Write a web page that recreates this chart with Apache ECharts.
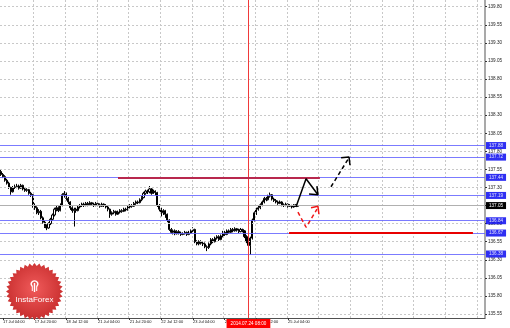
<!DOCTYPE html>
<html><head><meta charset="utf-8">
<script src="https://cdn.jsdelivr.net/npm/echarts@6/dist/echarts.min.js"></script>
<style>html,body{margin:0;padding:0;background:#fff}#c{width:510px;height:328px}</style>
</head><body><div id="c"></div>
<script>
// ---------- DATA ----------
const tradingDays = ['17 Jul','18 Jul','21 Jul','22 Jul','23 Jul','24 Jul','25 Jul'];
const firstHour = 3;   // first bar: 17 Jul 03:00
const lastHour = 9;    // last bar: 25 Jul 09:00
// hourly candles [open, close, low, high]
const candles = [
[137.52,137.48,137.46,137.55],[137.48,137.45,137.43,137.50],[137.45,137.40,137.38,137.47],[137.40,137.36,137.34,137.42],
[137.36,137.30,137.28,137.38],[137.30,137.24,137.20,137.31],[137.24,137.30,137.23,137.32],[137.30,137.31,137.28,137.34],
[137.31,137.32,137.29,137.35],[137.32,137.29,137.27,137.34],[137.29,137.33,137.28,137.35],[137.33,137.28,137.26,137.34],
[137.28,137.26,137.24,137.30],[137.26,137.27,137.24,137.29],[137.27,137.22,137.20,137.28],[137.22,137.20,137.17,137.24],
[137.20,137.05,137.02,137.21],[137.05,137.02,136.99,137.08],[137.02,136.95,136.93,137.04],[136.95,136.97,136.92,137.00],
[136.97,136.88,136.86,136.99],[136.88,136.82,136.80,136.90],[136.82,136.76,136.74,136.84],[136.76,136.74,136.71,136.79],
[136.74,136.80,136.73,136.82],[136.80,136.86,136.78,136.88],[136.86,136.92,136.84,136.94],[136.92,137.00,136.90,137.02],
[137.00,137.02,136.97,137.05],[137.02,136.98,136.96,137.04],[136.98,137.05,136.97,137.08],[137.05,137.20,137.04,137.22],
[137.20,137.22,137.16,137.25],[137.22,137.15,137.12,137.23],[137.15,137.10,137.07,137.17],[137.10,137.02,136.99,137.11],
[137.02,136.98,136.95,137.04],[136.98,137.00,136.76,137.02],[137.00,136.98,136.95,137.02],[136.98,137.03,136.97,137.05],
[137.03,137.05,137.01,137.07],[137.05,137.07,137.03,137.09],[137.07,137.05,137.03,137.09],[137.05,137.08,137.04,137.10],
[137.08,137.06,137.04,137.10],[137.06,137.09,137.05,137.11],[137.09,137.07,137.05,137.10],[137.07,137.05,137.03,137.09],
[137.05,137.08,137.04,137.10],[137.08,137.06,137.04,137.09],[137.06,137.04,137.02,137.08],[137.04,137.07,137.03,137.09],
[137.07,137.05,137.03,137.08],[137.05,137.03,137.01,137.07],[137.03,137.00,136.97,137.05],[137.00,136.93,136.88,137.01],
[136.93,136.95,136.91,136.97],[136.95,136.97,136.93,136.99],[136.97,136.93,136.91,136.98],[136.93,136.96,136.92,136.98],
[136.96,136.98,136.94,137.00],[136.98,136.97,136.95,137.00],[136.97,137.00,136.96,137.02],[137.00,136.99,136.97,137.02],
[136.99,137.03,136.98,137.05],[137.03,137.05,137.01,137.07],[137.05,137.04,137.02,137.07],[137.04,137.08,137.03,137.10],
[137.08,137.10,137.06,137.12],[137.10,137.09,137.07,137.12],[137.09,137.13,137.08,137.15],[137.13,137.16,137.11,137.18],
[137.16,137.22,137.15,137.24],[137.22,137.25,137.20,137.27],[137.25,137.24,137.21,137.27],[137.24,137.28,137.22,137.32],
[137.28,137.22,137.20,137.29],[137.22,137.25,137.21,137.27],[137.25,137.23,137.19,137.26],[137.23,137.05,137.03,137.24],
[137.05,137.00,136.97,137.07],[137.00,136.95,136.90,137.02],[136.95,136.98,136.92,137.00],[136.98,136.93,136.88,136.99],
[136.93,136.85,136.82,136.94],[136.85,136.72,136.70,136.86],[136.72,136.68,136.66,136.74],[136.68,136.70,136.65,136.72],
[136.70,136.66,136.64,136.72],[136.66,136.69,136.65,136.71],[136.69,136.67,136.65,136.71],[136.67,136.65,136.63,136.69],
[136.65,136.66,136.64,136.68],[136.66,136.68,136.65,136.70],[136.68,136.65,136.63,136.69],[136.65,136.67,136.64,136.70],
[136.67,136.70,136.66,136.72],[136.70,136.72,136.68,136.75],[136.72,136.55,136.53,136.73],[136.55,136.52,136.50,136.57],
[136.52,136.55,136.50,136.57],[136.55,136.53,136.51,136.57],[136.53,136.52,136.49,136.55],[136.52,136.48,136.46,136.54],
[136.48,136.47,136.42,136.50],[136.47,136.52,136.45,136.54],[136.52,136.58,136.50,136.60],[136.58,136.55,136.53,136.60],
[136.55,136.60,136.54,136.62],[136.60,136.62,136.58,136.64],[136.62,136.58,136.56,136.64],[136.58,136.63,136.57,136.65],
[136.63,136.68,136.61,136.70],[136.68,136.65,136.63,136.70],[136.65,136.70,136.64,136.72],[136.70,136.68,136.66,136.72],
[136.68,136.72,136.67,136.74],[136.72,136.70,136.68,136.74],[136.70,136.73,136.69,136.75],[136.73,136.71,136.69,136.74],
[136.71,136.69,136.67,136.73],[136.69,136.72,136.68,136.74],[136.72,136.70,136.68,136.73],[136.70,136.62,136.60,136.71],
[136.62,136.55,136.53,136.64],[136.55,136.50,136.45,136.57],[136.50,136.60,136.37,136.62],[136.60,136.85,136.58,136.87],
[136.85,136.95,136.83,136.97],[136.95,137.00,136.92,137.02],[137.00,137.02,136.98,137.05],[137.02,137.06,137.00,137.08],
[137.06,137.10,137.04,137.12],[137.10,137.15,137.08,137.17],[137.15,137.13,137.11,137.17],[137.13,137.18,137.12,137.20],
[137.18,137.20,137.16,137.23],[137.20,137.14,137.12,137.21],[137.14,137.12,137.10,137.16],[137.12,137.10,137.08,137.14],
[137.10,137.08,137.06,137.12],[137.08,137.10,137.07,137.12],[137.10,137.06,137.04,137.11],[137.06,137.05,137.03,137.08],
[137.05,137.07,137.04,137.09],[137.07,137.04,137.02,137.08],[137.04,137.05,137.03,137.07],[137.05,137.03,137.01,137.06],
[137.03,137.06,137.02,137.07],[137.06,137.04,137.03,137.07],[137.04,137.05,137.03,137.06]
];
const xTickLabels = ['17 Jul 04:00','17 Jul 20:00','18 Jul 12:00','21 Jul 04:00','21 Jul 20:00',
                     '22 Jul 12:00','23 Jul 04:00','23 Jul 20:00','24 Jul 12:00','25 Jul 04:00'];
const yTickLabels = [135.55,135.80,136.05,136.30,136.55,136.80,137.05,137.30,137.55,137.80,138.05,138.30,138.55,138.80,139.05,139.30,139.55,139.80];
const blueLevels = [137.88,137.72,137.44,137.19,136.84,136.67,136.38];
const bidPrice = 137.05;
const crosshairTime = '24 Jul 08:00';
const crosshairText = '2014.07.24 08:00';
// annotation segments in (bar index, price)
const redUpper = [[59.1,137.43],[161.1,137.43]];
const redLower = [[145.5,136.67],[238.4,136.67]];
const blackSolidShaft = [[149.0,137.03],[154.1,137.42],[160.1,137.20]];
const blackSolidHead  = [[159.6,137.32],[160.1,137.20],[155.6,137.21]];
const blackDashShaft  = [[166.7,137.31],[175.3,137.69]];
const blackDashHead   = [[171.8,137.71],[175.8,137.72],[176.3,137.61]];
const redDashShaft    = [[150.0,136.96],[154.1,136.75],[159.6,137.00]];
const redDashHead     = [[156.6,137.02],[160.1,137.04],[160.6,136.93]];

// ---------- BUILD ----------
const categories = [];
tradingDays.forEach((d, k) => {
  const h0 = k === 0 ? firstHour : 0;
  const h1 = k === tradingDays.length - 1 ? lastHour : 23;
  for (let h = h0; h <= h1; h++) categories.push(d + ' ' + String(h).padStart(2, '0') + ':00');
});
const totalSlots = 245;
for (let k = categories.length; k < totalSlots; k++) categories.push('~' + k);
const isTick = (i) => xTickLabels.indexOf(categories[i]) >= 0;
const vGrid = [];
for (let i = 17; i < totalSlots; i += 16) vGrid.push(i - 0.5);

const FONT = 'Liberation Sans';
function stroke(points, color, width, type) {
  return { type: 'line', xAxisIndex: 1, yAxisIndex: 0, data: points, symbol: 'none', showSymbol: false,
    lineStyle: { color: color, width: width, type: type || 'solid', cap: 'butt' }, silent: true, z: 6, clip: false };
}
function starPoints(cx, cy, rOut, rIn, n) {
  const pts = [];
  for (let k = 0; k < n * 2; k++) {
    const r = k % 2 === 0 ? rOut : rIn;
    const a = Math.PI * k / n - Math.PI / 2;
    pts.push([cx + r * Math.cos(a), cy + r * Math.sin(a)]);
  }
  return pts;
}

const chart = echarts.init(document.getElementById('c'), null, { renderer: 'canvas' });
chart.setOption({
  animation: false,
  backgroundColor: '#ffffff',
  grid: { left: 0, right: 25, top: 0, bottom: 10, containLabel: false },
  xAxis: [{
    type: 'category', data: categories, boundaryGap: true,
    axisLine: { show: true, onZero: false, lineStyle: { color: '#505050', width: 1 } },
    axisTick: { show: true, interval: (i) => isTick(i), alignWithLabel: true, length: 2, lineStyle: { color: '#303030' } },
    axisLabel: { interval: (i) => isTick(i), align: 'left', margin: 2, fontSize: 4, color: '#111', fontFamily: FONT },
    splitLine: { show: false }
  }, {
    type: 'value', min: -0.5, max: totalSlots - 0.5, show: false,
    axisLine: { show: false, onZero: false }, splitLine: { show: false }
  }],
  yAxis: {
    type: 'value', position: 'right', min: 135.495, max: 139.893, scale: true,
    axisLine: { show: true, onZero: false, lineStyle: { color: '#8c8c8c', width: 1.5 } },
    axisTick: { show: true, length: 2, customValues: yTickLabels, lineStyle: { color: '#333' } },
    axisLabel: { customValues: yTickLabels, formatter: (v) => v.toFixed(2), fontSize: 4.6, color: '#222', margin: 3, fontFamily: FONT },
    splitLine: { show: false }
  },
  series: [
    { // grid lines
      type: 'line', data: [], xAxisIndex: 1, yAxisIndex: 0, silent: true, z: 1,
      markLine: { silent: true, symbol: ['none', 'none'], label: { show: false },
        lineStyle: { color: '#c8c8c8', width: 1, type: [2, 2] },
        data: yTickLabels.map(v => ({ yAxis: v })).concat(vGrid.map(v => ({ xAxis: v }))) }
    },
    {
      type: 'candlestick', data: candles, xAxisIndex: 0, yAxisIndex: 0, barWidth: 1.6, z: 3,
      itemStyle: { color: '#ffffff', color0: '#000000', borderColor: '#000000', borderColor0: '#000000', borderWidth: 1 },
      markLine: {
        silent: true, symbol: ['none', 'none'], animation: false,
        data: blueLevels.map(v => ({
          yAxis: v,
          lineStyle: { color: '#6464ff', width: 1, type: 'solid', opacity: 0.85 },
          label: { show: true, position: 'end', distance: 1, formatter: v.toFixed(2), backgroundColor: '#0a0af0',
                   color: '#fff', fontSize: 4.6, padding: [1, 3, 1, 3], fontFamily: FONT }
        })).concat([{
          yAxis: bidPrice,
          lineStyle: { color: '#b0b0b0', width: 1, type: 'solid' },
          label: { show: true, position: 'end', distance: 1, formatter: bidPrice.toFixed(2), backgroundColor: '#000',
                   color: '#fff', fontSize: 4.6, padding: [1, 3, 1, 3], fontFamily: FONT }
        }, {
          xAxis: crosshairTime,
          lineStyle: { color: '#f03a3a', width: 1, type: 'solid' },
          label: { show: true, position: 'start', distance: 1, formatter: crosshairText, backgroundColor: '#ff0000',
                   color: '#fff', fontSize: 4.6, padding: [2, 4, 2, 4], fontFamily: FONT }
        }])
      }
    },
    stroke(redUpper, '#b8284e', 2),
    stroke(redLower, '#e80000', 2),
    stroke(blackSolidShaft, '#000', 1.5),
    stroke(blackSolidHead, '#000', 1.5),
    stroke(blackDashShaft, '#000', 1.5, [4, 3]),
    stroke(blackDashHead, '#000', 1.5),
    stroke(redDashShaft, '#f01818', 1.5, [4, 3]),
    stroke(redDashHead, '#f01818', 1.5)
  ],
  graphic: [
    { type: 'polygon', z: 100, shape: { points: starPoints(34.5, 291.5, 28.5, 25.5, 36) },
      style: { fill: new echarts.graphic.RadialGradient(0.5, 0.45, 0.6, [
        { offset: 0, color: '#f05a5a' }, { offset: 1, color: '#c42a2a' }]) } },
    { type: 'arc', z: 101, shape: { cx: 34.5, cy: 284, r: 3.2, startAngle: Math.PI * 0.75, endAngle: Math.PI * 2.25 },
      style: { stroke: '#fff', lineWidth: 1.3, fill: null } },
    { type: 'line', z: 101, shape: { x1: 34.5, y1: 283, x2: 34.5, y2: 292 }, style: { stroke: '#fff', lineWidth: 1.4 } },
    { type: 'line', z: 101, shape: { x1: 32.3, y1: 286, x2: 32.3, y2: 291 }, style: { stroke: '#fff', lineWidth: 1 } },
    { type: 'line', z: 101, shape: { x1: 36.7, y1: 286, x2: 36.7, y2: 291 }, style: { stroke: '#fff', lineWidth: 1 } },
    { type: 'text', z: 101, x: 34.5, y: 300,
      style: { text: 'InstaForex', fill: '#ffffff', font: '8px "Liberation Sans"', align: 'center', verticalAlign: 'middle' } }
  ]
});
</script>
</body></html>
